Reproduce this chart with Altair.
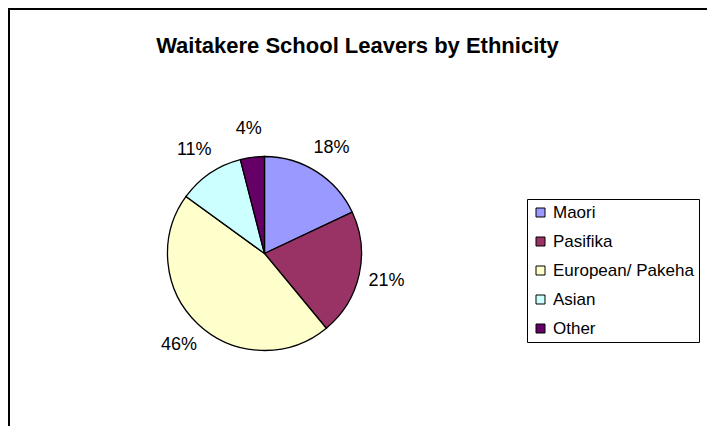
import altair as alt
import pandas as pd

categories = ["Maori", "Pasifika", "European/ Pakeha", "Asian", "Other"]
values = [18, 21, 46, 11, 4]
colors = ["#9999FF", "#993366", "#FFFFCC", "#CCFFFF", "#660066"]

df = pd.DataFrame({
    "category": categories,
    "value": values,
    "order": list(range(len(categories))),
    "label": [f"{v}%" for v in values],
})

W, H = 699, 418
CX, CY = 256.5, 245.5
FONT = "Liberation Sans"

base = alt.Chart(df).encode(
    theta=alt.Theta("value:Q", stack=True),
    order=alt.Order("order:Q"),
    x=alt.value(CX),
    y=alt.value(CY),
)

pie = base.mark_arc(outerRadius=97, stroke="black", strokeWidth=1.3).encode(
    color=alt.Color(
        "category:N",
        scale=alt.Scale(domain=categories, range=colors),
        sort=categories,
        legend=alt.Legend(
            title=None,
            orient="none",
            legendX=519,
            legendY=191,
            strokeColor="black",
            fillColor="white",
            padding=5,
            symbolType="square",
            symbolSize=81,
            symbolStrokeColor="black",
            symbolStrokeWidth=1,
            labelFontSize=17,
            labelFont=FONT,
            labelColor="black",
            rowPadding=11,
            labelOffset=4,
        ),
    )
)

labels = base.mark_text(radius=125, font=FONT, fontSize=18, color="black",
                        align="center", baseline="middle").encode(text="label:N")

left_border = alt.Chart(alt.Data(values=[{"k": 1}])).mark_rect(color="black").encode(
    x=alt.value(0), x2=alt.value(2), y=alt.value(0), y2=alt.value(H))
top_border = alt.Chart(alt.Data(values=[{"k": 2}])).mark_rule(
    color="black", strokeWidth=2).encode(
    x=alt.value(0), x2=alt.value(W), y=alt.value(1), y2=alt.value(1))

chart = alt.layer(pie, labels, left_border, top_border).properties(
    width=W,
    height=H,
    padding=0,
    autosize=alt.AutoSizeParams(type="none"),
    title=alt.TitleParams(
        "Waitakere School Leavers by Ethnicity",
        font=FONT,
        fontSize=22,
        fontWeight="bold",
        color="black",
        anchor="middle",
        baseline="alphabetic",
        offset=0,
        dy=67,
    ),
).configure_view(stroke=None).configure(background="white")

chart.save("out.html", embed_options={"renderer": "svg", "actions": False})
